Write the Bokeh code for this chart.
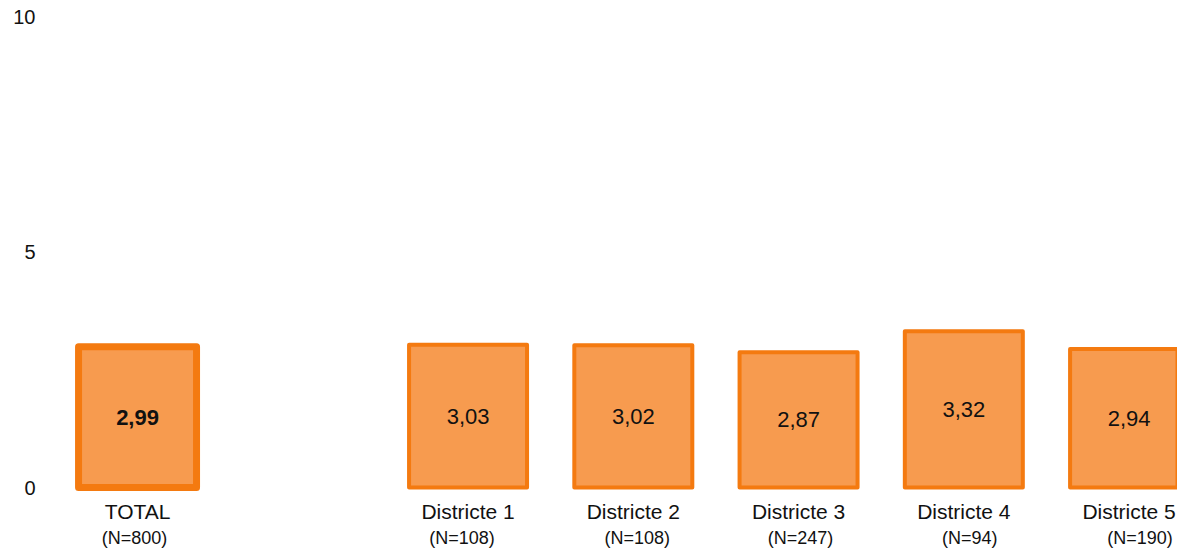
from bokeh.plotting import figure
from bokeh.models import ColumnDataSource, FixedTicker, Range1d
from bokeh.core.properties import value
from bokeh.embed import file_html
from bokeh.resources import INLINE

# ---- data ----
categories = ["TOTAL", "Districte 1", "Districte 2", "Districte 3", "Districte 4", "Districte 5"]
n_labels = ["(N=800)", "(N=108)", "(N=108)", "(N=247)", "(N=94)", "(N=190)"]
values = [2.99, 3.03, 3.02, 2.87, 3.32, 2.94]
value_labels = ["2,99", "3,03", "3,02", "2,87", "3,32", "2,94"]
y_ticks = [0, 5, 10]

# ---- layout / style ----
slots = [0] + [i + 2 for i in range(len(categories) - 1)]  # blank slot after TOTAL
line_widths = [7] + [4] * (len(categories) - 1)
styles = ["bold"] + ["normal"] * (len(categories) - 1)
n_offsets = [-3, -6, 4, 2, 6, 11]

FONT = "Liberation Sans"
FILL = "#F79B4F"
EDGE = "#F47A10"

src = ColumnDataSource(dict(
    x=slots, top=values, half=[v / 2 for v in values], lab=value_labels,
    cat=categories, n=n_labels, lw=line_widths, style=styles, noff=n_offsets,
))

W, H = 1177, 552
p = figure(width=W, height=H, output_backend="svg", toolbar_location=None,
           x_range=Range1d(-0.557, 6.293), y_range=Range1d(-1.38, 10.34),
           x_axis_location=None, min_border_left=45, min_border_right=0,
           min_border_top=0, min_border_bottom=0)
p.outline_line_color = None
p.grid.visible = False
p.background_fill_color = "white"

p.vbar(x="x", top="top", bottom=0, width=0.714, source=src,
       fill_color=FILL, line_color=EDGE, line_width="lw", line_join="round")

p.text(x="x", y="half", text="lab", source=src, text_align="center",
       text_baseline="middle", text_font=value(FONT), text_font_size="22px",
       text_font_style="style", text_color="#111111")

p.text(x="x", y=0, text="cat", source=src, text_align="center",
       text_baseline="middle", text_font=value(FONT), text_font_size="21px",
       y_offset=24, text_color="#111111")
p.text(x="x", y=0, text="n", source=src, text_align="center",
       text_baseline="middle", text_font=value(FONT), text_font_size="18px",
       y_offset=50, x_offset="noff", text_color="#111111")

ax = p.yaxis[0]
ax.ticker = FixedTicker(ticks=y_ticks)
ax.axis_line_color = None
ax.major_tick_line_color = None
ax.minor_tick_line_color = None
ax.major_label_standoff = 4
ax.major_label_text_font = FONT
ax.major_label_text_font_size = "20px"
ax.major_label_text_color = "#111111"

open("out.html", "w").write(file_html(p, INLINE))
